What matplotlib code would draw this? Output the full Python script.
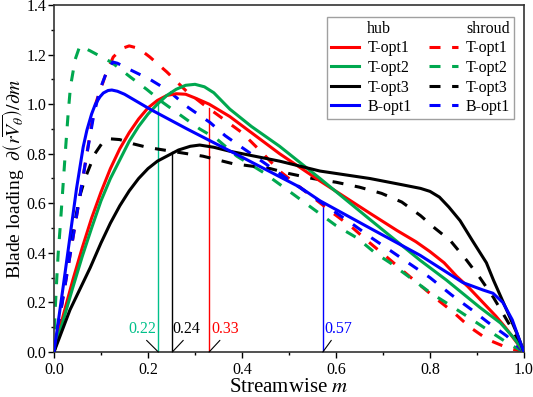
import matplotlib
matplotlib.use("Agg")
import matplotlib.pyplot as plt
from matplotlib.lines import Line2D
from matplotlib.ticker import MultipleLocator, FormatStrFormatter

plt.rcParams['font.family'] = ['Liberation Serif', 'DejaVu Serif']
plt.rcParams['mathtext.fontset'] = 'stix'

RED = '#ff0000'
GREEN = '#00a84f'
BLACK = '#000000'
BLUE = '#0000ff'
TEAL = '#00c08a'

# hub curves
t1_hub_m = [0, 0.02, 0.04, 0.06, 0.08, 0.10, 0.12, 0.14, 0.16, 0.18, 0.20, 0.22, 0.24,
            0.26, 0.28, 0.30, 0.33, 0.374, 0.48, 0.566, 0.672, 0.73, 0.77, 0.80, 0.83,
            0.857, 0.88, 0.90, 0.92, 0.94, 0.96, 0.98, 1.0]
t1_hub_v = [0, 0.15, 0.29, 0.42, 0.54, 0.645, 0.74, 0.82, 0.885, 0.94, 0.985, 1.015, 1.035,
            1.042, 1.04, 1.025, 1.0, 0.95, 0.80, 0.69, 0.56, 0.49, 0.445, 0.405, 0.36,
            0.305, 0.265, 0.225, 0.185, 0.145, 0.10, 0.05, 0]

t2_hub_m = [0, 0.02, 0.04, 0.06, 0.08, 0.10, 0.12, 0.14, 0.16, 0.18, 0.20, 0.22, 0.24,
            0.26, 0.28, 0.30, 0.32, 0.34, 0.374, 0.42, 0.48, 0.566, 0.672, 0.779, 0.835,
            0.906, 0.95, 0.977, 1.0]
t2_hub_v = [0, 0.13, 0.26, 0.385, 0.50, 0.61, 0.70, 0.775, 0.85, 0.91, 0.96, 1.0, 1.035,
            1.06, 1.076, 1.08, 1.07, 1.046, 0.98, 0.91, 0.83, 0.70, 0.535, 0.37, 0.29,
            0.18, 0.117, 0.06, 0]

t3_hub_m = [0, 0.034, 0.077, 0.10, 0.12, 0.14, 0.16, 0.18, 0.20, 0.22, 0.24, 0.265, 0.29,
            0.31, 0.34, 0.374, 0.48, 0.566, 0.672, 0.74, 0.78, 0.80, 0.82, 0.84, 0.864,
            0.89, 0.92, 0.935, 0.963, 0.985, 1.0]
t3_hub_v = [0, 0.17, 0.34, 0.44, 0.52, 0.59, 0.65, 0.70, 0.74, 0.77, 0.79, 0.815, 0.83,
            0.835, 0.826, 0.81, 0.77, 0.73, 0.70, 0.675, 0.66, 0.648, 0.625, 0.585, 0.53,
            0.45, 0.36, 0.29, 0.17, 0.075, 0]

b1_hub_m = [0, 0.02, 0.048, 0.062, 0.07, 0.08, 0.088, 0.098, 0.105, 0.115, 0.123, 0.135,
            0.15, 0.204, 0.283, 0.396, 0.523, 0.566, 0.672, 0.779, 0.87, 0.913, 0.934,
            0.955, 0.975, 0.99, 1.0]
b1_hub_v = [0, 0.27, 0.66, 0.826, 0.895, 0.96, 1.0, 1.03, 1.045, 1.055, 1.057, 1.052,
            1.04, 0.98, 0.90, 0.79, 0.665, 0.61, 0.50, 0.39, 0.28, 0.25, 0.237,
            0.20, 0.13, 0.05, 0]

# shroud curves
t1_shr_m = [0, 0.035, 0.07, 0.08, 0.09, 0.11, 0.126, 0.145, 0.16, 0.18, 0.204, 0.24,
            0.283, 0.317, 0.40, 0.445, 0.48, 0.52, 0.594, 0.636, 0.672, 0.71, 0.747,
            0.785, 0.81, 0.85, 0.885, 0.923, 0.966, 1.0]
t1_shr_v = [0, 0.40, 0.80, 0.92, 1.01, 1.12, 1.19, 1.225, 1.235, 1.225, 1.19, 1.13,
            1.05, 1.0, 0.885, 0.80, 0.73, 0.67, 0.56, 0.50, 0.44, 0.38, 0.32,
            0.26, 0.22, 0.16, 0.10, 0.05, 0.016, 0]

t2_shr_m = [0, 0.002, 0.006, 0.009, 0.013, 0.017, 0.021, 0.025, 0.03, 0.035, 0.045,
            0.055, 0.077, 0.123, 0.162, 0.197, 0.232, 0.31, 0.346, 0.389, 0.445, 0.485,
            0.60, 0.645, 0.683, 0.715, 0.80, 0.85, 0.89, 0.93, 0.97, 1.0]
t2_shr_v = [0, 0.15, 0.30, 0.40, 0.50, 0.61, 0.72, 0.83, 0.96, 1.07, 1.18,
            1.235, 1.215, 1.168, 1.11, 1.06, 1.006, 0.90, 0.86, 0.79, 0.725, 0.67,
            0.51, 0.46, 0.40, 0.36, 0.24, 0.18, 0.13, 0.08, 0.03, 0]

t3_shr_m = [0, 0.02, 0.04, 0.055, 0.066, 0.087, 0.105, 0.12, 0.14, 0.168, 0.20, 0.25,
            0.317, 0.38, 0.46, 0.50, 0.55, 0.60, 0.65, 0.697, 0.74, 0.78, 0.81, 0.843,
            0.878, 0.906, 0.935, 0.96, 0.98, 1.0]
t3_shr_v = [0, 0.24, 0.48, 0.63, 0.70, 0.80, 0.85, 0.86, 0.857, 0.84, 0.825, 0.81,
            0.79, 0.76, 0.74, 0.72, 0.70, 0.685, 0.665, 0.64, 0.605, 0.55, 0.50, 0.45,
            0.37, 0.30, 0.22, 0.14, 0.075, 0]

b1_shr_m = [0, 0.035, 0.07, 0.085, 0.098, 0.11, 0.125, 0.135, 0.166, 0.204, 0.243,
            0.283, 0.332, 0.364, 0.40, 0.442, 0.48, 0.594, 0.636, 0.676, 0.715, 0.80,
            0.846, 0.889, 0.923, 0.963, 1.0]
b1_shr_v = [0, 0.40, 0.80, 0.96, 1.06, 1.12, 1.17, 1.165, 1.135, 1.10, 1.055,
            0.99, 0.926, 0.873, 0.825, 0.77, 0.72, 0.57, 0.515, 0.46, 0.41, 0.30,
            0.23, 0.17, 0.12, 0.065, 0]

# crossing markers (hub/shroud intersections)
mark_m = [0.222, 0.2517, 0.33, 0.572]
mark_top = [1.01, 0.805, 0.985, 0.60]
mark_text = ['0.22', '0.24', '0.33', '0.57']
mark_text_m = [0.187, 0.282, 0.364, 0.604]
mark_leader_m = [0.197, 0.275, 0.353, 0.59]
mark_colors = [TEAL, BLACK, RED, BLUE]

labels = ['T-opt1', 'T-opt2', 'T-opt3', 'B-opt1']
colors = [RED, GREEN, BLACK, BLUE]
hub = [(t1_hub_m, t1_hub_v), (t2_hub_m, t2_hub_v), (t3_hub_m, t3_hub_v), (b1_hub_m, b1_hub_v)]
shroud = [(t1_shr_m, t1_shr_v), (t2_shr_m, t2_shr_v), (t3_shr_m, t3_shr_v), (b1_shr_m, b1_shr_v)]

fig = plt.figure(figsize=(5.33, 3.97), dpi=100)
ax = fig.add_axes([54 / 533, 45 / 397, 470 / 533, 347 / 397])

for m, top, c in zip(mark_m, mark_top, mark_colors):
    ax.plot([m, m], [0, top], color=c, lw=1.0, zorder=1)

dash = (0, (3.6, 3.8))
hub_lines = []
shr_lines = []
for (m, v), c, lab in zip(shroud, colors, labels):
    ln, = ax.plot(m, v, color=c, lw=2.2, linestyle=dash, label=lab, zorder=2)
    shr_lines.append(ln)
for (m, v), c, lab in zip(hub, colors, labels):
    ln, = ax.plot(m, v, color=c, lw=2.2, label=lab, zorder=3)
    hub_lines.append(ln)

for m, tx, lx, txt, c in zip(mark_m, mark_text_m, mark_leader_m, mark_text, mark_colors):
    ax.annotate('', xy=(m, 0), xytext=(lx, 0.047),
                arrowprops=dict(arrowstyle='-', color='black', lw=0.8, shrinkA=0, shrinkB=0))
    ax.text(tx, 0.091, txt, color=c, fontsize=11.5, ha='center', va='center')

ax.set_xlim(0, 1.0)
ax.set_ylim(0, 1.4)
ax.xaxis.set_major_locator(MultipleLocator(0.2))
ax.xaxis.set_minor_locator(MultipleLocator(0.1))
ax.yaxis.set_major_locator(MultipleLocator(0.2))
ax.yaxis.set_minor_locator(MultipleLocator(0.1))
ax.xaxis.set_major_formatter(FormatStrFormatter('%.1f'))
ax.yaxis.set_major_formatter(FormatStrFormatter('%.1f'))
ax.tick_params(which='both', direction='out', top=False, right=False, labelsize=11.5, width=1.0)
ax.tick_params(which='major', length=4, pad=1.5)
ax.tick_params(which='minor', length=2.5)
ax.tick_params(axis='x', which='major', pad=3)
for s in ax.spines.values():
    s.set_linewidth(1.2)
    s.set_color('#333333')

ax.set_xlabel('Streamwise $m$', fontsize=15, labelpad=0)
ax.set_ylabel(r'Blade loading  $\partial\left(r\overline{V_\theta}\right)\left/\partial m\right.$',
              fontsize=14)
ax.yaxis.set_label_coords(-0.057, 0.5)

blank = Line2D([], [], color='none')
handles = [blank] + hub_lines + [blank] + shr_lines
leg_labels = ['hub'] + labels + ['shroud'] + labels
leg = ax.legend(handles, leg_labels, ncol=2, loc='upper right', bbox_to_anchor=(0.979, 0.9655),
                borderaxespad=0, fontsize=11.5, frameon=True, fancybox=False, framealpha=1,
                edgecolor='#a0a0a0', handlelength=1.8, handletextpad=0.5, columnspacing=1.1,
                labelspacing=0.22, borderpad=0.25)
leg.get_frame().set_linewidth(1.0)

fig.savefig('out.png', dpi=100)
